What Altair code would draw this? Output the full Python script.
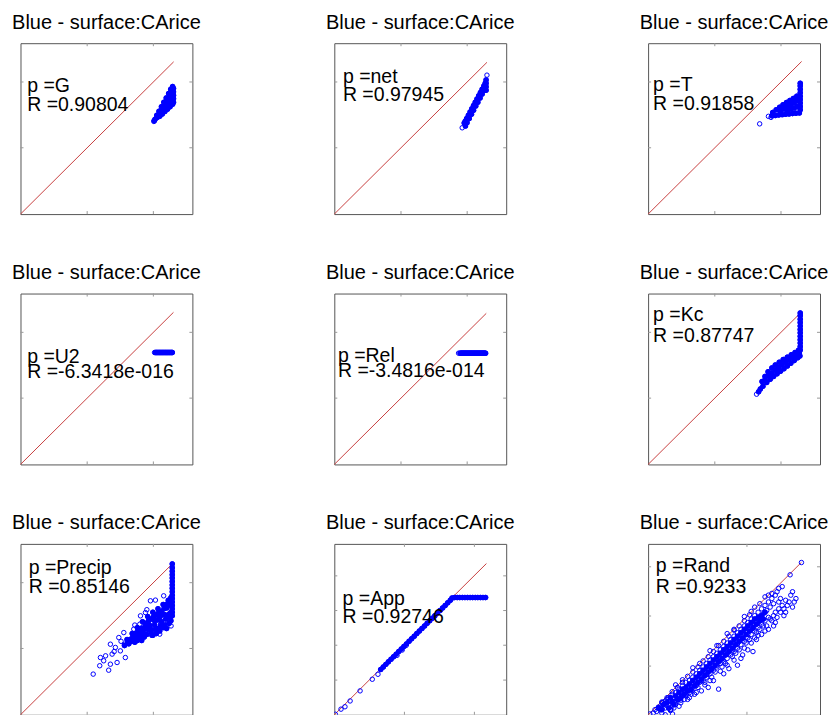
import altair as alt
import pandas as pd

TITLE = "Blue - surface:CArice"
PARAMS = ["G", "net", "T", "U2", "Rel", "Kc", "Precip", "App", "Rand"]
R_VALUES = ["0.90804", "0.97945", "0.91858", "-6.3418e-016", "-3.4816e-014",
            "0.87747", "0.85146", "0.92746", "0.9233"]

# ---- scatter values (axis units 0..100 of each box) ----
# "DENSE" = overlapping masses of markers, "SPARSE" = isolated open circles
G_DENSE_X = [77.8, 78.3, 79.3, 80.6, 82.0, 83.4, 84.8, 86.2, 87.4, 88.5,
             79.5, 81.0, 82.5, 84.0, 85.5, 87.0, 88.2,
             81.0, 82.5, 84.0, 85.5, 87.0, 88.5, 89.0,
             89.0, 89.0, 89.0, 89.0,
             86.5, 88.0, 88.0, 86.0, 84.5, 87.5]
G_DENSE_Y = [54.6, 55.5, 57.8, 60.2, 62.8, 65.4, 68.0, 70.6, 73.0, 74.6,
             56.5, 59.0, 61.5, 64.0, 66.5, 69.0, 71.5,
             57.2, 58.6, 60.0, 61.4, 62.8, 64.3, 65.5,
             67.5, 69.5, 71.5, 73.5,
             64.5, 66.5, 68.5, 63.0, 62.3, 70.5]
G_SPARSE = [(77.6, 54.2)]

NET_DENSE_X = [76.3, 75.6, 76.2, 77.0, 78.0, 79.0, 80.0, 81.0, 82.0, 83.0, 84.0, 85.0, 86.0, 87.0, 87.8,
               77.2, 78.5, 79.8, 81.0, 82.3, 83.5, 84.8, 86.0, 87.2,
               88.3, 88.3, 88.3, 88.3]
NET_DENSE_Y = [51.5, 53.3, 54.4, 55.9, 57.8, 59.7, 61.6, 63.5, 65.4, 67.3, 69.2, 71.1, 73.0, 74.9, 76.5,
               53.5, 55.9, 58.4, 60.7, 63.2, 65.4, 67.9, 70.2, 72.5,
               72.5, 74.5, 76.5, 78.5]
NET_SPARSE = [(74.4, 50.5), (88.8, 81.3)]

T_DENSE_X = [72.0, 74.0, 76.0, 78.0, 80.0, 82.0, 84.0, 86.0, 88.0,
             72.5, 74.5, 76.5, 78.5, 80.5, 82.5, 84.5, 86.5,
             77.0, 79.0, 81.0, 83.0, 85.0, 87.0, 81.0, 83.0, 85.0, 87.0,
             88.5, 88.5, 88.5, 88.5, 88.5, 88.5, 88.5, 88.5, 88.5]
T_DENSE_Y = [57.5, 57.7, 58.0, 58.2, 58.4, 58.6, 58.8, 59.0, 59.2,
             59.5, 61.0, 62.5, 64.0, 65.3, 66.5, 67.7, 69.0,
             60.0, 61.5, 63.0, 64.0, 65.0, 66.5, 60.5, 61.5, 62.0, 63.0,
             61.0, 63.0, 65.0, 67.0, 69.0, 71.0, 73.0, 75.0, 76.5]
T_SPARSE = [(64.9, 52.8), (70.0, 57.2), (71.5, 56.6)]

U2_DENSE_X = [78.5, 79.0, 79.5, 80.0, 80.5, 81.0, 81.5, 82.0, 82.5, 83.0, 83.5,
              84.0, 84.5, 85.0, 85.5, 86.0, 86.5, 87.0, 87.5, 88.0, 88.3]
U2_DENSE_Y = [65.5, 65.5, 65.5, 65.5, 65.5, 65.5, 65.5, 65.5, 65.5, 65.5, 65.5,
              65.5, 65.5, 65.5, 65.5, 65.5, 65.5, 65.5, 65.5, 65.5, 65.5]
U2_SPARSE = [(78.0, 65.5)]

REL_DENSE_X = [73.5, 74.0, 74.5, 75.0, 75.5, 76.0, 76.5, 77.0, 77.5, 78.0, 78.5,
               79.0, 79.5, 80.0, 80.5, 81.0, 81.5, 82.0, 82.5, 83.0, 83.5, 84.0,
               84.5, 85.0, 85.5, 86.0, 86.5, 87.0, 87.5, 88.0]
REL_DENSE_Y = [65.1, 65.1, 65.1, 65.1, 65.1, 65.1, 65.1, 65.1, 65.1, 65.1, 65.1,
               65.1, 65.1, 65.1, 65.1, 65.1, 65.1, 65.1, 65.1, 65.1, 65.1, 65.1,
               65.1, 65.1, 65.1, 65.1, 65.1, 65.1, 65.1, 65.1]
REL_SPARSE = [(72.3, 65.1), (73.0, 65.1)]

KC_DENSE_X = [64.3, 65.3,
              66.3, 68.0, 69.8, 72.0, 74.0, 76.3, 78.6, 81.0, 83.3, 85.5, 87.5,
              66.8, 69.0, 71.0, 73.0, 75.0, 77.0, 79.0, 81.0, 83.0, 85.0, 87.0, 88.3,
              68.0, 70.0, 72.0, 74.0, 76.0, 78.0, 80.0, 82.0, 84.0, 86.0, 88.0,
              88.5, 88.5, 88.5, 88.5, 88.5, 88.5, 88.5, 88.5, 88.5, 88.5, 88.5, 88.5]
KC_DENSE_Y = [42.5, 44.2,
              48.5, 51.5, 54.2, 56.5, 58.2, 59.8, 61.4, 62.8, 64.2, 65.5, 66.8,
              45.8, 48.0, 49.8, 51.5, 53.0, 54.5, 56.0, 57.6, 59.2, 60.8, 62.4, 63.5,
              49.5, 51.8, 53.5, 55.2, 56.8, 58.4, 60.0, 61.5, 62.8, 64.0, 65.2,
              67.0, 69.0, 71.0, 73.0, 75.0, 77.0, 79.0, 81.0, 83.0, 85.0, 87.0, 88.6]
KC_SPARSE = [(63.1, 41.1)]

PRECIP_SPARSE = [
    (42.3, 23.8), (46.1, 28.7), (46.5, 33.5), (48.4, 31.6), (52.3, 29.6), (51.3, 26.1),
    (53.3, 35.5), (52.3, 41.3), (55.2, 39.4), (56.2, 30.6), (57.2, 45.2), (58.1, 37.4),
    (60.1, 48.1), (61.0, 33.5), (60.5, 41.3), (62.9, 43.3), (65.9, 50.1), (64.9, 45.2),
    (69.8, 57.9), (69.4, 53.0), (71.7, 46.2), (72.7, 59.8), (75.6, 66.7), (78.5, 67.1),
    (81.0, 47.2), (83.3, 69.6), (85.3, 53.0), (87.6, 52.0), (81.4, 53.0), (76.6, 51.1),
    (58.5, 43.0), (54.5, 37.0), (49.5, 34.5), (66.5, 52.5), (73.5, 61.5), (79.5, 49.5),
]
PRECIP_DENSE = [
    (62.0, 44.0), (65.0, 47.5), (68.0, 51.0), (71.0, 54.5), (74.0, 57.5), (77.0, 60.0),
    (80.0, 62.0), (83.0, 64.5), (86.0, 67.0), (87.5, 68.5),
    (64.0, 44.0), (67.0, 47.5), (70.0, 50.5), (73.0, 53.5), (76.0, 56.0), (79.0, 58.5),
    (82.0, 60.5), (85.0, 62.5), (87.5, 64.0),
    (66.0, 45.0), (69.0, 48.0), (72.0, 50.5), (75.0, 52.5), (78.0, 55.0), (81.0, 57.0),
    (84.0, 58.5), (87.5, 60.0),
    (63.0, 41.5), (68.0, 43.5), (72.0, 45.5), (76.0, 48.5), (80.0, 50.5), (84.0, 52.5),
    (87.5, 55.0), (74.0, 50.0), (78.0, 52.5), (82.0, 54.5), (86.0, 57.0),
    (60.5, 40.5), (62.5, 42.5), (64.5, 43.0), (65.5, 45.5), (66.5, 42.5), (67.5, 45.5),
    (68.5, 49.0), (69.5, 46.0), (70.5, 43.5), (71.5, 48.0), (72.5, 52.0), (73.5, 47.0),
    (74.5, 55.0), (75.5, 50.5), (76.5, 46.5), (77.5, 57.5), (78.5, 50.0), (79.5, 55.5),
    (80.5, 60.0), (81.5, 52.0), (82.5, 58.5), (83.5, 62.0), (84.5, 56.0), (85.5, 65.0),
    (86.5, 59.0), (86.5, 53.5), (87.5, 66.5), (87.5, 57.5), (85.0, 50.5), (83.0, 51.0),
    (81.0, 49.0), (79.0, 47.5), (77.0, 46.5),
    (88.3, 58.0), (88.3, 60.0), (88.3, 62.0), (88.3, 64.0), (88.3, 66.0), (88.3, 68.0),
    (88.3, 70.0), (88.3, 72.0), (88.3, 74.0), (88.3, 76.0), (88.3, 78.0), (88.3, 80.0),
    (88.3, 82.0), (88.3, 84.0), (88.3, 86.0), (88.3, 88.3),
]

APP_SPARSE = [
    (0.6, 0.3), (3.9, 3.3), (6.2, 4.7), (9.2, 8.1), (15.0, 14.0), (22.1, 20.8), (25.4, 23.7),
    (36.5, 34.8), (39.5, 37.9), (41.8, 40.6),
]
APP_DENSE = [
    (27.0, 26.5), (28.5, 28.0), (30.0, 29.5), (31.5, 31.0), (33.0, 32.5), (34.5, 34.0),
    (36.0, 35.5), (37.5, 37.0), (39.0, 38.5), (40.5, 40.0), (42.0, 41.5), (43.5, 43.0),
    (45.0, 44.5), (46.5, 46.0), (48.0, 47.5), (49.5, 49.0), (51.0, 50.5), (52.5, 52.0),
    (54.0, 53.5), (55.5, 55.0), (57.0, 56.5), (58.5, 58.0), (60.0, 59.5), (61.5, 61.0),
    (63.0, 62.5), (64.5, 64.0), (66.0, 65.5), (67.5, 67.0), (68.5, 68.3),
    (70.0, 68.6), (71.5, 68.6), (73.0, 68.6), (74.5, 68.6), (76.0, 68.6), (77.5, 68.6),
    (79.0, 68.6), (80.5, 68.6), (82.0, 68.6), (83.5, 68.6), (85.0, 68.6), (86.5, 68.6),
    (88.0, 68.6),
]

RAND_SPARSE = [
    (1, 0.5), (3, 1), (4, 3), (5, 2), (6, 4.5), (7, 3), (8, 7), (9, 5), (10, 8), (10, 4),
    (11, 9), (12, 6), (12, 10), (13, 8), (14, 12), (14, 5), (15, 10), (16, 13), (16, 8),
    (17, 11), (18, 15), (18, 9), (19, 13), (20, 17), (20, 11), (21, 15), (22, 19), (22, 12),
    (23, 16), (24, 20), (24, 13), (25, 18), (26, 22), (26, 15), (27, 20), (28, 24), (28, 17),
    (29, 21), (30, 26), (30, 19), (31, 23), (32, 28), (32, 20), (33, 25), (34, 30), (34, 22),
    (35, 27), (36, 32), (36, 24), (37, 29), (38, 34), (38, 26), (39, 31), (40, 36), (40, 28),
    (41, 33), (42, 38), (42, 30), (43, 35), (44, 40), (44, 31), (45, 37), (46, 42), (46, 33),
    (47, 39), (48, 44), (48, 35), (49, 41), (50, 46), (50, 37), (51, 43), (52, 48), (52, 39),
    (53, 45), (54, 50), (54, 41), (55, 47), (56, 52), (56, 43), (57, 49), (58, 54), (58, 45),
    (59, 51), (60, 56), (60, 47), (61, 53), (62, 58), (62, 49), (63, 55), (64, 60), (64, 51),
    (65, 57), (66, 62), (66, 53), (67, 59), (68, 64), (68, 55), (69, 61), (70, 66), (70, 57),
    (71, 63), (72, 68), (73, 65), (74, 70), (74, 60), (76, 66), (75, 72), (77, 68),
    (8, 1), (13, 3), (19, 7), (24, 10), (27, 12), (31, 14), (35, 16), (38, 20), (41, 15),
    (44, 24), (47, 27), (52, 29), (55, 35), (58, 38), (61, 37), (63, 44), (66, 47), (69, 52),
    (72, 55), (75, 57), (77, 60), (79, 62), (81, 64), (80, 67), (83, 70), (85, 66), (84, 72),
    (15, 4), (21, 9), (25, 12), (29, 16), (33, 19), (37, 22), (39, 25), (43, 28), (45, 30),
    (49, 34), (51, 36), (53, 38), (57, 42), (59, 44), (63, 48), (65, 50), (67, 52), (71, 56),
    (73, 58), (20, 20.5), (30, 30), (40, 40.5), (50, 50), (60, 60.5), (65, 65), (70, 70),
    (82.6, 81.9), (89.2, 89.1), (76, 74), (72, 71), (78, 75),
    (6.4, 4.3), (8.4, 7.2), (13.2, 3.3), (14.2, 0.5),
    (10, 0), (13, 2.5), (16, 6), (19, 8.5), (22, 11), (25, 14.5), (28, 17.5), (31, 20),
    (34, 23.5), (37, 26.5), (40, 29), (43, 32.5), (46, 35.5), (49, 38), (52, 41.5),
    (55, 44.5), (58, 47), (61, 50.5), (64, 53.5),
    (8, 7.5), (11, 10), (14, 13.5), (17, 16), (20, 19), (23, 22.5), (26, 25), (29, 28),
    (32, 31.5), (35, 34), (38, 37), (41, 40.5), (44, 43), (47, 46), (50, 49.5), (53, 52),
    (56, 55), (59, 58.5),
    (18, 5), (23, 9), (28, 13), (33, 17.5), (36, 20), (42, 25.5), (46, 29), (50, 32),
    (54, 33), (56, 39), (60, 42), (62, 45), (64, 46.5), (68, 49), (70, 50), (73, 52),
    (74, 54), (76, 62), (78, 64), (80, 60), (82, 66), (84, 63), (86, 68), (79, 58),
    (16, 17.5), (26, 27.5), (36, 37.5), (46, 47.5), (56, 57.5), (62, 63), (68, 69),
]
RAND_DENSE = [
    (6, 4), (8, 3), (9, 6), (11, 7), (12, 4), (13, 10), (14, 8), (15, 6), (16, 11), (17, 9),
    (18, 13), (19, 10), (20, 15), (21, 12), (22, 16), (23, 14), (24, 18), (25, 15), (26, 20),
    (27, 17), (28, 22), (29, 19), (30, 24), (31, 21), (32, 26), (33, 23), (34, 28), (35, 25),
    (36, 30), (37, 27), (38, 32), (39, 29), (40, 34), (41, 31), (42, 36), (43, 33), (44, 38),
    (45, 35), (46, 40), (47, 37), (48, 42), (49, 39), (50, 44), (51, 41), (52, 46), (53, 43),
    (54, 48), (55, 45), (56, 50), (57, 47), (58, 52), (59, 49), (60, 54), (61, 51), (62, 56),
    (63, 53), (64, 57), (65, 55), (66, 58), (67, 56), (68, 60),
]

PANEL_DENSE = [
    list(zip(G_DENSE_X, G_DENSE_Y)), list(zip(NET_DENSE_X, NET_DENSE_Y)), list(zip(T_DENSE_X, T_DENSE_Y)),
    list(zip(U2_DENSE_X, U2_DENSE_Y)), list(zip(REL_DENSE_X, REL_DENSE_Y)), list(zip(KC_DENSE_X, KC_DENSE_Y)),
    PRECIP_DENSE, APP_DENSE, RAND_DENSE,
]
PANEL_SPARSE = [G_SPARSE, NET_SPARSE, T_SPARSE, U2_SPARSE, REL_SPARSE, KC_SPARSE,
                PRECIP_SPARSE, APP_SPARSE, RAND_SPARSE]

# end of the red 1:1 line (data max) in each panel
DIAG_END = [89.1, 88.8, 89.3, 89.0, 88.4, 88.8, 88.8, 88.5, 89.2]

# tick positions
STD_TICKS = [38.8, 77.3]
X_TICKS = [STD_TICKS] * 7 + [[40.8, 81.5], [57.5]]
Y_TICKS = [STD_TICKS] * 7 + [[20.3, 40.7, 61.0, 81.3], [28.5, 57.8, 86.6]]

# annotation anchors (data units)
LABEL_X = [3.9, 5.0, 2.9, 3.9, 2.1, 2.9, 4.8, 4.8, 4.5]
LABEL_P_Y = [71.5, 76.8, 71.9, 59.2, 60.2, 84.0, 82.3, 64.3, 83.8]
LABEL_R_Y = [60.2, 66.0, 60.8, 50.5, 51.0, 71.5, 71.2, 54.0, 71.2]

W, H = 172, 171
FONT = "Liberation Sans"
FS = 19.5
TITLE_FS = 20
TICK_LEN = 3
TICK_COLOR = "#999999"
BLUE = "#0000ff"
RED = "#c84040"


def panel(i):
    sx = alt.Scale(domain=[0, 100], nice=False, zero=False)
    sy = alt.Scale(domain=[0, 100], nice=False, zero=False)
    X = lambda f: alt.X(f, type="quantitative", scale=sx, axis=None)
    Y = lambda f: alt.Y(f, type="quantitative", scale=sy, axis=None)

    dense = pd.DataFrame(PANEL_DENSE[i], columns=["x", "y"])
    sparse = pd.DataFrame(PANEL_SPARSE[i], columns=["x", "y"])
    diag = pd.DataFrame({"x": [0, DIAG_END[i]], "y": [0, DIAG_END[i]]})
    xt = pd.DataFrame({"t": X_TICKS[i]})
    yt = pd.DataFrame({"t": Y_TICKS[i]})
    labels = pd.DataFrame({
        "x": [LABEL_X[i], LABEL_X[i]],
        "y": [LABEL_P_Y[i], LABEL_R_Y[i]],
        "label": ["p =" + PARAMS[i], "R =" + R_VALUES[i]],
    })

    line = alt.Chart(diag).mark_line(color=RED, strokeWidth=1).encode(x=X("x"), y=Y("y"))
    dense_fill = alt.Chart(dense).mark_point(
        shape="circle", filled=True, size=30, color=BLUE, opacity=1, clip=True
    ).encode(x=X("x"), y=Y("y"))
    dense_ring = alt.Chart(dense).mark_point(
        shape="circle", filled=False, size=20, strokeWidth=1, color=BLUE, opacity=1, clip=True
    ).encode(x=X("x"), y=Y("y"))
    sparse_ring = alt.Chart(sparse).mark_point(
        shape="circle", filled=False, size=20, strokeWidth=1, color=BLUE, opacity=1, clip=True
    ).encode(x=X("x"), y=Y("y"))
    tb = alt.Chart(xt).mark_rule(color=TICK_COLOR).encode(x=X("t"), y=alt.value(H), y2=alt.value(H - TICK_LEN))
    tt = alt.Chart(xt).mark_rule(color=TICK_COLOR).encode(x=X("t"), y=alt.value(0), y2=alt.value(TICK_LEN))
    tl = alt.Chart(yt).mark_rule(color=TICK_COLOR).encode(y=Y("t"), x=alt.value(0), x2=alt.value(TICK_LEN))
    tr = alt.Chart(yt).mark_rule(color=TICK_COLOR).encode(y=Y("t"), x=alt.value(W), x2=alt.value(W - TICK_LEN))
    text = alt.Chart(labels).mark_text(
        align="left", baseline="alphabetic", font=FONT, fontSize=FS, color="black"
    ).encode(x=X("x"), y=Y("y"), text="label:N")

    return alt.layer(tb, tt, tl, tr, line, sparse_ring, dense_fill, dense_ring, text).properties(
        width=W, height=H,
        title=alt.TitleParams(TITLE, font=FONT, fontSize=TITLE_FS, fontWeight="normal", color="black",
                              anchor="middle", baseline="alphabetic", offset=-6),
    )


chart = alt.concat(
    *[panel(i) for i in range(9)], columns=3,
    spacing=alt.RowColnumber(row=79.5, column=142), bounds="flush",
).properties(
    padding={"left": 11.5, "top": 12, "right": 1, "bottom": 0},
    background="white",
).configure_view(stroke="#555555", strokeWidth=1)

chart.save("out.html", embed_options={"renderer": "svg", "actions": False})
